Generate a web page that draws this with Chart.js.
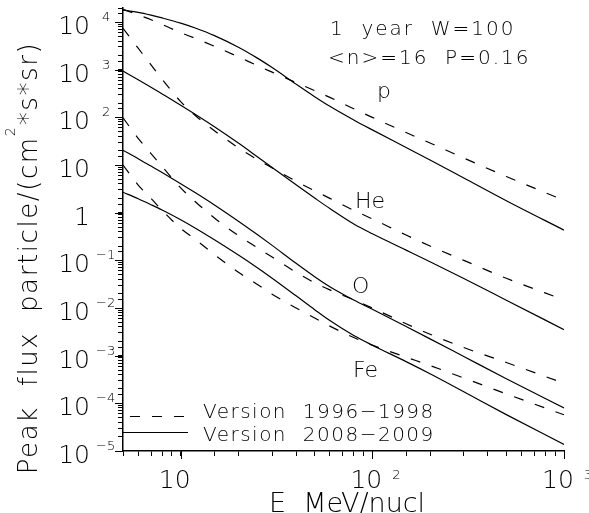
<!DOCTYPE html>
<html>
<head>
<meta charset="utf-8">
<script src="https://cdn.jsdelivr.net/npm/chart.js@4.4.1/dist/chart.umd.min.js"></script>
<style>
    html, body { margin: 0; padding: 0; background: #fff; }
    #wrap { width: 589px; height: 513px; }
</style>
</head>
<body>
<div id="wrap"><canvas id="fluxChart" width="589" height="513"></canvas></div>
<script>
// Energy grid, MeV/nucl
const energies = [5, 6, 7, 8, 10, 12, 15, 20, 25, 30, 40, 50, 60, 80, 100, 150, 200, 300, 500, 1000];

// Peak flux, particle/(cm2*s*sr) - model version 1996-1998
const pOld  = [1.86e4, 1.41e4, 1.12e4, 8.9e3, 6.0e3, 4.5e3, 3.1e3, 1.86e3, 1.23e3, 890, 537, 363, 263, 151, 100, 48, 29, 14, 5.75, 1.82];
const heOld = [7.4e3, 2.82e3, 1.26e3, 631, 214, 107, 52.5, 22.9, 13.2, 8.7, 4.57, 2.88, 2.0, 1.12, 0.74, 0.34, 0.20, 0.10, 0.042, 0.0148];
const oOld  = [97.7, 36.3, 17.4, 9.33, 3.31, 1.66, 0.776, 0.331, 0.186, 0.117, 0.0562, 0.0339, 0.024, 0.0148, 0.01, 0.00468, 0.00282, 0.00148, 7.2e-4, 2.63e-4];
const feOld = [10, 3.8, 2.0, 1.12, 0.468, 0.269, 0.132, 0.0562, 0.0316, 0.0195, 0.01, 0.00617, 0.00417, 0.0024, 0.00166, 9.3e-4, 6.2e-4, 3.4e-4, 1.58e-4, 5.75e-5];

// Peak flux - model version 2008-2009
const pNew  = [1.78e4, 1.6e4, 1.4e4, 1.22e4, 9.48e3, 7.41e3, 5.19e3, 2.96e3, 1.77e3, 1.11e3, 498, 272, 171, 88.3, 54.6, 23.3, 12.7, 5.33, 1.78, 0.43];
const heNew = [933, 614, 428, 310, 180, 114, 63.8, 28.9, 15.1, 8.85, 3.84, 2.03, 1.22, 0.578, 0.361, 0.164, 0.0935, 0.0416, 0.0146, 0.00352];
const oNew  = [20.4, 13.6, 9.5, 6.95, 4.06, 2.58, 1.45, 0.664, 0.352, 0.206, 0.0867, 0.0454, 0.028, 0.0147, 0.0094, 0.00409, 0.00225, 9.6e-4, 3.28e-4, 8.0e-5];
const feNew = [2.69, 1.96, 1.47, 1.135, 0.71, 0.467, 0.27, 0.129, 0.0708, 0.0422, 0.018, 0.00923, 0.00545, 0.00265, 0.00166, 7.5e-4, 4.17e-4, 1.75e-4, 5.8e-5, 1.37e-5];

// Decade labels on both axes
const yDecades = [-5, -4, -3, -2, -1, 0, 1, 2, 3, 4];
const xDecades = [1, 2, 3];

const FONT = '"DejaVu Sans", "Liberation Sans", sans-serif';
const DASH = [10, 12];

function toPoints(values) {
    return energies.map((e, i) => ({ x: e, y: values[i] }));
}

function curve(label, values, dashed) {
    return {
        label: label,
        data: toPoints(values),
        borderColor: '#000',
        borderWidth: 1.2,
        borderDash: dashed ? DASH : [],
        pointRadius: 0,
        fill: false,
        cubicInterpolationMode: 'monotone'
    };
}

function text(ctx, str, x, y, size, opts = {}) {
    ctx.save();
    ctx.font = `${opts.weight || 300} ${size}px ${FONT}`;
    ctx.letterSpacing = (opts.spacing || 0) + 'px';
    ctx.textAlign = opts.align || 'left';
    ctx.textBaseline = opts.baseline || 'alphabetic';
    ctx.fillStyle = '#000';
    ctx.fillText(str, x, y);
    ctx.restore();
}

function textWidth(ctx, str, size, spacing) {
    ctx.save();
    ctx.font = `300 ${size}px ${FONT}`;
    ctx.letterSpacing = (spacing || 0) + 'px';
    const w = ctx.measureText(str).width;
    ctx.restore();
    return w;
}

// Long ticks at decades, tick labels with exponents, titles and the legend
const decorations = {
    id: 'decorations',
    afterDraw(chart) {
        const ctx = chart.ctx;
        const xs = chart.scales.x;
        const ys = chart.scales.y;
        const area = chart.chartArea;

        ctx.save();
        ctx.strokeStyle = '#000';
        ctx.lineWidth = 1;
        yDecades.forEach(e => {
            const py = Math.round(ys.getPixelForValue(Math.pow(10, e))) + 0.5;
            ctx.beginPath();
            ctx.moveTo(area.left - 8, py);
            ctx.lineTo(area.left, py);
            ctx.stroke();
        });
        xDecades.forEach(e => {
            const px = Math.round(xs.getPixelForValue(Math.pow(10, e))) + 0.5;
            ctx.beginPath();
            ctx.moveTo(px, area.bottom);
            ctx.lineTo(px, area.bottom + 8);
            ctx.stroke();
        });
        ctx.restore();

        // y tick labels
        yDecades.forEach(e => {
            const py = ys.getPixelForValue(Math.pow(10, e));
            text(ctx, e === 0 ? '1' : '10', 90, py + 12, 25, { align: 'right' });
            if (e !== 0 && e !== 1) {
                const sup = e < 0 ? '\u2212' + (-e) : String(e);
                text(ctx, sup, e < 0 ? 96 : 102, py - 1, 13);
            }
        });

        // x tick labels
        xDecades.forEach(e => {
            const px = xs.getPixelForValue(Math.pow(10, e));
            text(ctx, '10', px - 6, 488, 25, { align: 'center' });
            if (e > 1) {
                text(ctx, String(e), px + 20, 479, 13);
            }
        });

        // axis titles
        text(ctx, 'E  MeV/nucl', 347, 512, 27, { align: 'center' });

        ctx.save();
        ctx.translate(37, 258);
        ctx.rotate(-Math.PI / 2);
        const head = 'Peak  flux  particle/(cm';
        const tail = '*s*sr)';
        const sp = 1.6;
        const wHead = textWidth(ctx, head, 26, sp);
        const wSup = textWidth(ctx, '2', 14, 0) + 2;
        const wTail = textWidth(ctx, tail, 26, sp);
        let x0 = -(wHead + wSup + wTail) / 2;
        text(ctx, head, x0, 0, 26, { spacing: sp });
        text(ctx, '2', x0 + wHead, -22, 14);
        text(ctx, tail, x0 + wHead + wSup, 0, 26, { spacing: sp });
        ctx.restore();

        // run info
        text(ctx, '1  year  W=100', 330, 35, 20, { spacing: 2 });
        text(ctx, '<n>=16  P=0.16', 328, 64, 20, { spacing: 2 });

        // species
        text(ctx, 'p', 377, 98, 22);
        text(ctx, 'He', 355, 208, 22);
        text(ctx, 'O', 352, 293, 22);
        text(ctx, 'Fe', 353, 377, 22);

        // legend
        ctx.save();
        ctx.strokeStyle = '#000';
        ctx.lineWidth = 1.2;
        ctx.setLineDash(DASH);
        ctx.beginPath();
        ctx.moveTo(130, 416.5);
        ctx.lineTo(188, 416.5);
        ctx.stroke();
        ctx.setLineDash([]);
        ctx.beginPath();
        ctx.moveTo(123, 432.5);
        ctx.lineTo(188, 432.5);
        ctx.stroke();
        ctx.restore();
        text(ctx, 'Version  1996\u22121998', 203, 418, 20, { spacing: 1.5 });
        text(ctx, 'Version  2008\u22122009', 203, 441, 20, { spacing: 1.5 });
    }
};

const axisGrid = {
    display: true,
    drawOnChartArea: false,
    drawTicks: true,
    tickLength: 5,
    color: '#000',
    tickColor: '#000',
    lineWidth: 1
};

new Chart(document.getElementById('fluxChart'), {
    type: 'line',
    data: {
        datasets: [
            curve('p 1996-1998', pOld, true),
            curve('He 1996-1998', heOld, true),
            curve('O 1996-1998', oOld, true),
            curve('Fe 1996-1998', feOld, true),
            curve('p 2008-2009', pNew, false),
            curve('He 2008-2009', heNew, false),
            curve('O 2008-2009', oNew, false),
            curve('Fe 2008-2009', feNew, false)
        ]
    },
    options: {
        responsive: false,
        animation: false,
        layout: { padding: { left: 0, top: 8, right: 25, bottom: 0 } },
        scales: {
            x: {
                type: 'logarithmic',
                min: 5,
                max: 1000,
                grid: axisGrid,
                border: { display: true, color: '#000', width: 1.5 },
                ticks: { display: false, autoSkip: false },
                afterFit: s => { s.height = 62; }
            },
            y: {
                type: 'logarithmic',
                min: 1e-5,
                max: 1.97e4,
                grid: axisGrid,
                border: { display: true, color: '#000', width: 1.5 },
                ticks: { display: false, autoSkip: false },
                afterFit: s => { s.width = 123; }
            }
        },
        plugins: {
            legend: { display: false },
            tooltip: { enabled: false }
        }
    },
    plugins: [decorations]
});
</script>
</body>
</html>
